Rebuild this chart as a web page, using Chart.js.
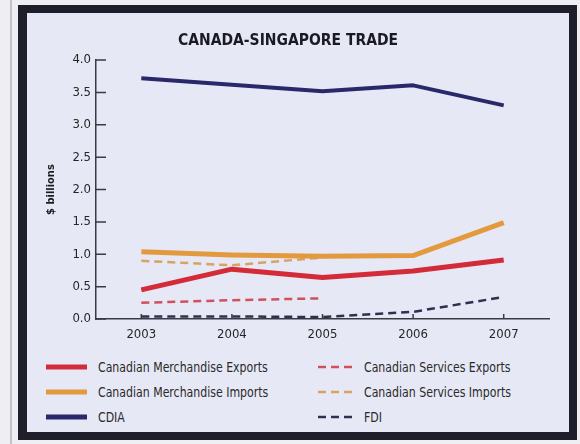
<!DOCTYPE html>
<html>
<head>
<meta charset="utf-8">
<script src="https://cdn.jsdelivr.net/npm/chart.js@4.4.1/dist/chart.umd.min.js"></script>
<style>
  html, body { margin:0; padding:0; }
  body { width:580px; height:444px; background:#efeef3; position:relative; overflow:hidden;
         font-family:"Liberation Sans Narrow","DejaVu Sans Condensed","Arial Narrow","Roboto Condensed",sans-serif; }
  .rule { position:absolute; left:10px; top:0; width:2px; height:444px; background:#c4c3cc; }
  .frame { position:absolute; left:18px; top:5px; width:542px; height:419px;
           border-style:solid; border-color:#1f1f2b; border-width:8px 8px 8px 9px; background:#e7e8f5; }
  .plot { position:absolute; left:0; top:0; width:542px; height:340px; }
  #legend { position:absolute; left:19px; top:341px; display:grid;
            grid-template-columns:272px 220px; grid-auto-rows:25px; }
  #legend .item { display:flex; align-items:center; font-size:14px; color:#2a2a2a; white-space:nowrap; }
  #legend svg { margin-right:11px; flex:none; }
  #legend span { display:inline-block; transform:scaleX(0.87); transform-origin:left center; }
</style>
</head>
<body>
<div class="rule"></div>
<div class="frame">
  <div class="plot"><canvas id="tradeChart"></canvas></div>
  <div id="legend"></div>
</div>
<script>
// ----- data ($ billions) -----
const years = ["2003", "2004", "2005", "2006", "2007"];
const merchExports    = [0.45, 0.77, 0.64, 0.74, 0.91];
const merchImports    = [1.04, 0.99, 0.97, 0.98, 1.49];
const cdia            = [3.72, 3.62, 3.52, 3.61, 3.30];
const servicesExports = [0.25, 0.29, 0.32, null, null];
const servicesImports = [0.90, 0.83, 0.95, null, null];
const fdi             = [0.04, 0.04, 0.03, 0.11, 0.34];

const titleText = "CANADA-SINGAPORE TRADE";
const yTitle = "$ billions";

const axisColor = "#3a3a44";
const textColor = "#262626";
const fontFamily = '"Liberation Sans Narrow","DejaVu Sans Condensed","Arial Narrow","Roboto Condensed",sans-serif';

// legend order is row by row: solid on the left, dashed on the right
const series = [
  { label:"Canadian Merchandise Exports", data:merchExports,    color:"#d42b38", width:5,   dash:[] },
  { label:"Canadian Services Exports",    data:servicesExports, color:"#d0505c", width:2.5, dash:[8,5] },
  { label:"Canadian Merchandise Imports", data:merchImports,    color:"#e39a3e", width:5,   dash:[] },
  { label:"Canadian Services Imports",    data:servicesImports, color:"#d6a362", width:2.5, dash:[8,5] },
  { label:"CDIA",                         data:cdia,            color:"#29286a", width:4,   dash:[] },
  { label:"FDI",                          data:fdi,             color:"#30304e", width:2.5, dash:[8,5] }
];

// small tick marks pointing into the plot
const innerTicks = {
  id: "innerTicks",
  beforeDatasetsDraw(chart){
    const {ctx, chartArea, scales:{x, y}} = chart;
    ctx.save();
    ctx.strokeStyle = axisColor;
    ctx.lineWidth = 1.5;
    ctx.beginPath();
    y.ticks.forEach(t => {
      const py = y.getPixelForValue(t.value);
      ctx.moveTo(chartArea.left, py);
      ctx.lineTo(chartArea.left + 10, py);
    });
    x.ticks.forEach((t, i) => {
      const px = x.getPixelForTick(i);
      ctx.moveTo(px, chartArea.bottom);
      ctx.lineTo(px, chartArea.bottom - 5);
    });
    ctx.stroke();
    ctx.restore();
  }
};

new Chart(document.getElementById("tradeChart"), {
  type: "line",
  data: {
    labels: years,
    datasets: series.map(s => ({
      label: s.label, data: s.data,
      borderColor: s.color, backgroundColor: s.color,
      borderWidth: s.width, borderDash: s.dash,
      pointRadius: 0, tension: 0, spanGaps: false,
      borderCapStyle: "butt", borderJoinStyle: "round"
    }))
  },
  options: {
    responsive: true, maintainAspectRatio: false, animation: false,
    layout: { padding: { left:0, right:20, top:0, bottom:4 } },
    plugins: {
      legend: { display:false },
      tooltip: { enabled:false },
      title: { display:true, text:titleText, color:"#1a1a22",
               font:{ family:fontFamily, size:15.5, weight:"bold" }, padding:{ top:19, bottom:9.5 } }
    },
    scales: {
      x: {
        offset: true,
        grid: { display:false, drawTicks:false },
        border: { display:true, color:axisColor, width:1.5 },
        ticks: { color:textColor, padding:8, font:{ family:fontFamily, size:13 } },
        afterFit: s => { s.height = 30; }
      },
      y: {
        min: 0, max: 4,
        grid: { display:false, drawTicks:false },
        border: { display:true, color:axisColor, width:1.5 },
        ticks: { stepSize:0.5, color:textColor, padding:5,
                 font:{ family:fontFamily, size:13 }, callback: v => v.toFixed(1) },
        title: { display:true, text:yTitle, color:"#1a1a22",
                 font:{ family:fontFamily, size:11, weight:"bold" }, padding:{ top:18, bottom:0 } },
        afterFit: s => { s.width = 69; }
      }
    }
  },
  plugins: [innerTicks]
});

// ----- legend -----
const legend = document.getElementById("legend");
series.forEach(s => {
  const w = s.dash.length ? 35 : 41;
  const item = document.createElement("div");
  item.className = "item";
  item.innerHTML = `<svg width="${w}" height="8"><line x1="0" y1="4" x2="${w}" y2="4" stroke="${s.color}"
    stroke-width="${s.dash.length ? 2.5 : 5}" stroke-dasharray="${s.dash.join(",")}"/></svg><span>${s.label}</span>`;
  legend.appendChild(item);
});
</script>
</body>
</html>
